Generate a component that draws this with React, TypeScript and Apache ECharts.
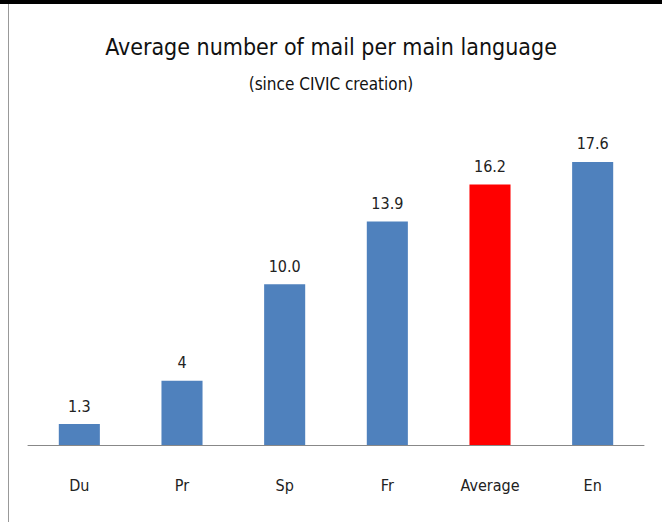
import React, { useEffect, useRef } from "react";
import * as echarts from "echarts";

const categories = ["Du", "Pr", "Sp", "Fr", "Average", "En"];
const values = [1.3, 4, 10.0, 13.9, 16.2, 17.6];
const valueLabels = ["1.3", "4", "10.0", "13.9", "16.2", "17.6"];
const highlight = "Average";

const FONT = "'DejaVu Sans Condensed', 'DejaVu Sans', sans-serif";

export default function App() {
  const ref = useRef<HTMLDivElement>(null);
  useEffect(() => {
    const chart = echarts.init(ref.current!, null, { renderer: "svg" });
    chart.setOption({
      animation: false,
      backgroundColor: "#ffffff",
      title: [
        {
          text: "Average number of mail per main language",
          left: "center",
          top: 30,
          textStyle: { fontFamily: FONT, fontSize: 23, fontWeight: "normal", color: "#111" },
        },
        {
          text: "(since CIVIC creation)",
          left: "center",
          top: 70,
          textStyle: { fontFamily: FONT, fontSize: 17, fontWeight: "normal", color: "#111" },
        },
      ],
      graphic: [
        { type: "rect", shape: { x: 0, y: 0, width: 662, height: 4 }, style: { fill: "#000" } },
        { type: "line", shape: { x1: 8.5, y1: 4, x2: 8.5, y2: 522 }, style: { stroke: "#999", lineWidth: 1 } },
      ],
      grid: { left: 28, right: 18, top: 123.4, bottom: 77 },
      xAxis: {
        type: "category",
        data: categories,
        axisLine: { lineStyle: { color: "#888", width: 1 } },
        axisTick: { show: false },
        axisLabel: { fontFamily: FONT, fontSize: 16, color: "#222", margin: 32 },
      },
      yAxis: {
        type: "value",
        min: 0,
        max: 20,
        show: false,
        splitLine: { show: false },
      },
      series: [
        {
          type: "bar",
          barWidth: "40%",
          data: values.map((v, i) => ({
            value: v,
            itemStyle: { color: categories[i] === highlight ? "#ff0000" : "#4f81bd" },
          })),
          label: {
            show: true,
            position: "top",
            distance: 10,
            fontFamily: FONT,
            fontSize: 16,
            color: "#222",
            formatter: (p: any) => valueLabels[p.dataIndex],
          },
        },
      ],
    });
    return () => chart.dispose();
  }, []);
  return <div ref={ref} style={{ width: 662, height: 522, position: "absolute", left: 0, top: 0 }} />;
}
